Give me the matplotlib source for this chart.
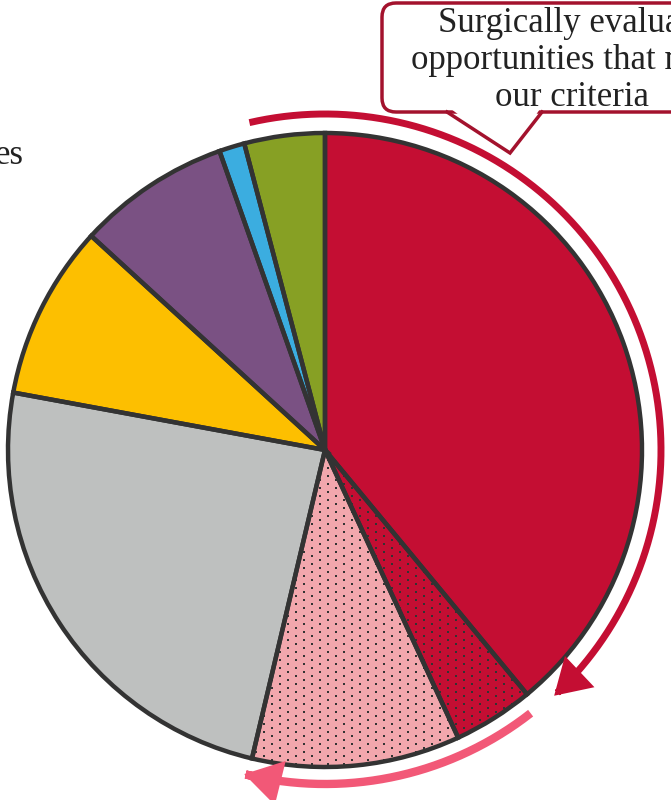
import numpy as np
import matplotlib
matplotlib.use("Agg")
import matplotlib.pyplot as plt
from matplotlib.patches import FancyArrowPatch, FancyBboxPatch, Polygon, PathPatch
from matplotlib.path import Path

# slice shares (%), clockwise from 12 o'clock
shares = [39.0, 4.1, 10.6, 24.2, 8.9, 7.8, 1.3, 4.1]
colors = ["#C40E33", "#C40E33", "#F2A7AD", "#BEC0BF",
          "#FDBF00", "#7A5183", "#3BADE0", "#87A024"]
dotted = [False, True, True, False, False, False, False, False]

callout_text = "Surgically evaluate\nopportunities that meet\nour criteria"
side_label = "es"

W, H = 671, 800
fig = plt.figure(figsize=(W / 100, H / 100), dpi=100)
ax = fig.add_axes([0, 0, 1, 1])

cx, cy, R = 325, 350, 317

wedges, _ = ax.pie(shares, colors=colors, startangle=90, counterclock=False,
                   center=(cx, cy), radius=R,
                   wedgeprops=dict(edgecolor="none", linewidth=0))

ax.set_xlim(0, W)
ax.set_ylim(0, H)
ax.set_aspect("equal")
ax.axis("off")

# dot texture for the dotted slices (staggered grid)
gx, gy = np.meshgrid(np.arange(0, W, 16), np.arange(0, H, 8))
dx = np.concatenate([gx.ravel(), gx.ravel() + 8])
dy = np.concatenate([gy.ravel(), gy.ravel() + 4])
for w, d in zip(wedges, dotted):
    if d:
        sc = ax.scatter(dx, dy, s=4, marker="s", color="#333333",
                        linewidths=0, zorder=2)
        sc.set_clip_path(w)

# slice outlines on top of the dots
for w in wedges:
    ax.add_patch(PathPatch(w.get_path(), transform=w.get_transform(),
                           fill=False, edgecolor="#333333", lw=3.2, zorder=3))


def arc_arrow(a0, a1, r, color, lw):
    t = np.radians(np.linspace(a0, a1, 200))
    pts = np.column_stack([cx + r * np.cos(t), cy + r * np.sin(t)])
    arr = FancyArrowPatch(path=Path(pts),
                          arrowstyle="-|>,head_length=0.9,head_width=0.55",
                          mutation_scale=20, lw=lw, color=color,
                          capstyle="butt", joinstyle="miter", zorder=4)
    ax.add_patch(arr)


# arrows around the pie
arc_arrow(103, -47, 336, "#C40E33", 5)
arc_arrow(-52, -104, 334, "#F25877", 6)

# callout box
edge = "#A3122D"
box = FancyBboxPatch((394, 700), 320, 85,
                     boxstyle="round,pad=12,rounding_size=14",
                     facecolor="white", edgecolor=edge, lw=2.5, zorder=5)
ax.add_patch(box)
tail_x = [447, 510, 542]
tail_y = [H - 112, H - 153, H - 112]
ax.add_patch(Polygon([(447, H - 106), (510, H - 153), (542, H - 106)],
                     closed=True, facecolor="white", edgecolor="none", zorder=6))
ax.plot(tail_x, tail_y, color=edge, lw=2.5, zorder=7, solid_joinstyle="miter")

ax.text(572, H - 7, callout_text, ha="center", va="top",
        fontsize=25, family="Liberation Serif", color="#222222",
        linespacing=1.15, zorder=8)

ax.text(24, H - 164, side_label, ha="right", va="baseline",
        fontsize=25, family="Liberation Serif", color="#222222")

fig.savefig("out.png", dpi=100)
